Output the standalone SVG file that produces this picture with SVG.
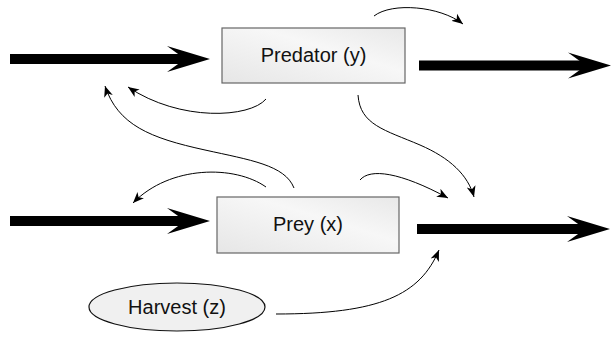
<svg xmlns="http://www.w3.org/2000/svg" width="611" height="351" viewBox="0 0 611 351">
  <defs>
    <linearGradient id="boxFill" x1="0" y1="1" x2="1" y2="0">
      <stop offset="0" stop-color="#e6e6e6"/>
      <stop offset="0.6" stop-color="#f7f7f7"/>
      <stop offset="1" stop-color="#e8e8e8"/>
    </linearGradient>
    <marker id="bigHead" markerUnits="userSpaceOnUse" viewBox="0 -14 44 28" markerWidth="44" markerHeight="28" refX="23" refY="0" orient="auto">
      <path d="M0,-13 L43,0 L0,13 L18,0 Z" fill="#000"/>
    </marker>
    <marker id="smallHead" markerUnits="userSpaceOnUse" viewBox="0 -5 12 10" markerWidth="12" markerHeight="10" refX="11" refY="0" orient="auto">
      <path d="M0,-4.5 L11,0 L0,4.5 L3,0 Z" fill="#000"/>
    </marker>
  </defs>
  <style>
    .box { fill: url(#boxFill); stroke: #666; stroke-width: 1.2; }
    .oval { fill: #f0f0f0; stroke: #111; stroke-width: 1.2; }
    .label { font-family: "Liberation Sans", Arial, sans-serif; font-size: 20px; fill: #111; text-anchor: middle; }
    .flow { fill: none; stroke: #000; stroke-width: 10; marker-end: url(#bigHead); }
    .link { fill: none; stroke: #000; stroke-width: 1; marker-end: url(#smallHead); }
  </style>

  <g id="connectors">
    <path class="flow" d="M10,59 L190,59"/>
    <path class="flow" d="M419,65.5 L591,65.5"/>
    <path class="flow" d="M10,221 L190,221"/>
    <path class="flow" d="M417,229 L590,229"/>

    <path class="link" d="M374,16 C392,2 440,6 463,24"/>
    <path class="link" d="M266,99 C250,118 180,122 128,87"/>
    <path class="link" d="M294,188 C285,165 250,160 205,150 C150,138 118,125 105,86"/>
    <path class="link" d="M358,95 C360,125 385,130 420,145 C450,158 468,175 474,197"/>
    <path class="link" d="M266,187 C235,165 170,165 133,203"/>
    <path class="link" d="M360,180 C370,168 400,172 448,198"/>
    <path class="link" d="M276,314 C380,314 420,295 439,250"/>
  </g>

  <g id="predator">
    <rect class="box" x="222" y="28" width="183" height="55"/>
    <text class="label" x="313.5" y="62">Predator (y)</text>
  </g>

  <g id="prey">
    <rect class="box" x="217" y="197" width="182" height="56"/>
    <text class="label" x="308" y="231">Prey (x)</text>
  </g>

  <g id="harvest">
    <ellipse class="oval" cx="177" cy="307" rx="88" ry="24"/>
    <text class="label" x="177" y="314">Harvest (z)</text>
  </g>
</svg>
